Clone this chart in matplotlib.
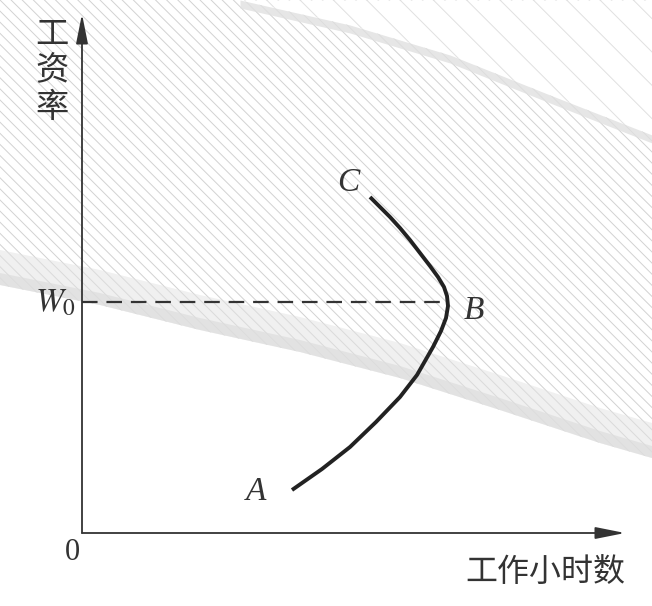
import numpy as np
import matplotlib.pyplot as plt

plt.rcParams['font.family'] = ['Noto Sans CJK SC', 'DejaVu Sans']
plt.rcParams['mathtext.fontset'] = 'stix'
plt.rcParams['hatch.linewidth'] = 0.7

# backward-bending labour supply curve, A -> B -> C (hours, wage)
curve_hours = [2.10, 2.40, 2.68, 2.94, 3.18, 3.35, 3.51, 3.59, 3.64, 3.66, 3.65, 3.62,
               3.56, 3.48, 3.38, 3.28, 3.18, 3.08, 2.98, 2.88]
curve_wage = [0.43, 0.64, 0.86, 1.11, 1.36, 1.58, 1.86, 2.02, 2.15, 2.27, 2.37, 2.46,
              2.56, 2.67, 2.80, 2.93, 3.05, 3.16, 3.26, 3.36]
w0 = 2.31
b_hours = 3.65

# scan texture (shaded background band edges)
band1_x = [-0.82, 0.18, 1.18, 2.18, 3.18, 4.18, 5.18, 5.70]
band1_y = [2.48, 2.28, 2.03, 1.81, 1.55, 1.23, 0.90, 0.75]
band2_x = [1.58, 2.68, 3.68, 4.68, 5.70]
band2_y = [5.33, 5.08, 4.78, 4.38, 3.98]

fig = plt.figure(figsize=(6.52, 6.06), dpi=100)
ax = fig.add_axes([0, 0, 1, 1])
ax.set_xlim(-0.82, 5.70)
ax.set_ylim(-0.73, 5.33)
ax.axis('off')

# background hatching (scan texture)
ax.fill_between(band1_x, band1_y, 5.33, facecolor='none', edgecolor='#d2d2d2',
                hatch='\\\\\\', linewidth=0)
ax.fill_between(band1_x, np.array(band1_y), np.array(band1_y) + 0.35,
                color='#e2e2e2', alpha=0.5, linewidth=0)
ax.fill_between(band1_x, np.array(band1_y), np.array(band1_y) + 0.12,
                color='#dddddd', alpha=0.7, linewidth=0)
ax.fill_between(band2_x, band2_y, 5.33, color='white', linewidth=0)
ax.fill_between(band2_x, band2_y, 5.33, facecolor='none', edgecolor='#e0e0e0',
                hatch='\\', linewidth=0)
ax.fill_between(band2_x, np.array(band2_y) - 0.08, band2_y,
                color='#e0e0e0', alpha=0.8, linewidth=0)

# axes with arrows
arrow = dict(arrowstyle='-|>,head_length=0.9,head_width=0.18', color='#333333',
             lw=1.3, mutation_scale=20, shrinkA=0, shrinkB=0)
ax.annotate('', xy=(5.43, 0), xytext=(0, 0), arrowprops=arrow)
ax.annotate('', xy=(0, 5.19), xytext=(0, 0), arrowprops=arrow)

# dashed W0 line and curve
ax.plot([0, b_hours], [w0, w0], color='#333333', lw=1.6, dashes=(7, 4))
ax.plot(curve_hours, curve_wage, color='#222222', lw=2.8, solid_capstyle='butt')

# labels
ax.text(-0.30, 4.62, '工\n资\n率', fontsize=24, ha='center', va='center',
        linespacing=1.05, color='#333333')
ax.text(4.63, -0.39, '工作小时数', fontsize=23, ha='center', va='center', color='#333333')
ax.text(-0.10, -0.19, '0', fontsize=22, family='Liberation Serif', ha='center',
        va='center', color='#333333')
ax.text(-0.27, 2.31, '$W_0$', fontsize=24, ha='center', va='center', color='#333333')
ax.text(1.74, 0.41, 'A', fontsize=24, family='Liberation Serif', style='italic',
        ha='center', va='center', color='#333333')
ax.text(3.92, 2.22, 'B', fontsize=24, family='Liberation Serif', style='italic',
        ha='center', va='center', color='#333333')
ax.text(2.66, 3.50, 'C', fontsize=24, family='Liberation Serif', style='italic',
        ha='center', va='center', color='#333333')

fig.savefig('out.png', dpi=100)
